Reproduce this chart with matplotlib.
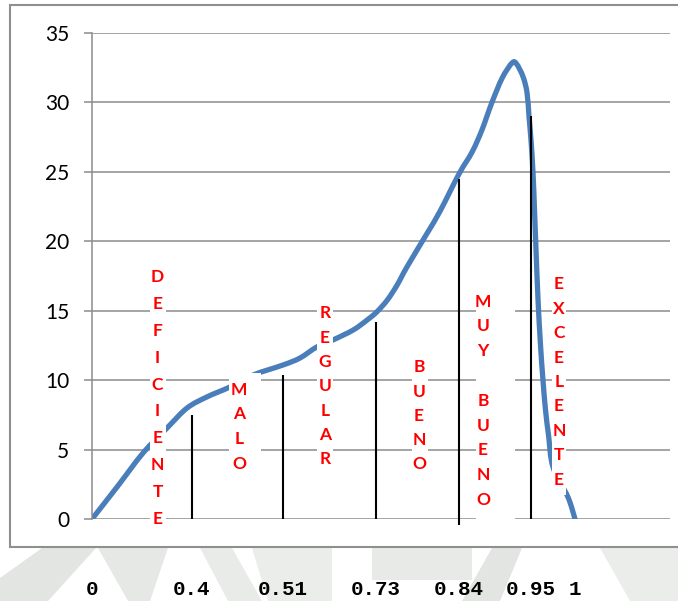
import numpy as np
import matplotlib
matplotlib.use("Agg")
import matplotlib.pyplot as plt
from matplotlib.patches import Rectangle, PathPatch, Polygon
from matplotlib.path import Path

# score classes on the x axis; black cut lines mark the class limits
SCORE_TICKS = [0, 0.4, 0.51, 0.73, 0.84, 0.95, 1]
SCORE_LABELS = ["0", "0.4", "0.51", "0.73", "0.84", "0.95", "1"]

CUT_SCORES = [0.4, 0.51, 0.73, 0.84, 0.95]
CUT_TOPS = [7.5, 10.4, 14.2, 24.5, 29.0]
CUT_BOTTOMS = [0, 0, 0, -0.4, 0]

# frequency curve over the score
CURVE_SCORE = [0.000, 0.100, 0.204, 0.300, 0.380, 0.418, 0.446, 0.474, 0.510,
               0.550, 0.590, 0.628, 0.676, 0.709, 0.731, 0.745, 0.758, 0.771,
               0.798, 0.815, 0.840, 0.860, 0.875, 0.890, 0.906, 0.921, 0.928,
               0.938, 0.944, 0.947, 0.950, 0.9523, 0.9540, 0.9557, 0.9580,
               0.9608, 0.9636, 0.9665, 0.9699, 0.975, 0.992, 1.000]
CURVE_VALUE = [0.00, 2.30, 4.75, 6.55, 7.99, 8.79, 9.51, 10.37, 11.09,
               11.59, 12.39, 12.89, 13.61, 14.33, 14.91, 15.77, 16.85, 18.15,
               20.60, 22.18, 24.85, 26.43, 28.01, 29.96, 31.76, 32.84, 32.77,
               31.83, 30.68, 28.95, 27.29, 24.92, 22.25, 19.37, 15.77,
               12.53, 10.01, 7.85, 6.05, 3.74, 1.58, 0.00]

CATEGORIES = ["DEFICIENTE", "MALO", "REGULAR", "BUENO", "MUY BUENO", "EXCELENTE"]

# where each vertical category label sits: column centre, first letter,
# letter step, and the white box behind it (left, right, bottom, top)
LABEL_X = [0.262, 0.4568, 0.6094, 0.787, 0.8767, 0.9818]
LABEL_Y0 = [17.57, 9.43, 14.91, 11.02, 15.77, 17.0]
LABEL_STEP = [1.944, 1.78, 1.75, 1.746, 1.786, 1.757]
LABEL_BOX = [(0.232, 0.296, -0.65, 18.5),
             (0.4447, 0.4834, 2.8, 10.51),
             (0.5904, 0.6279, 3.5, 15.8),
             (0.7777, 0.7989, 3.0, 11.9),
             (0.8660, 0.9256, -0.4, 16.6),
             (0.9739, 0.9898, 1.7, 17.9)]

# the score axis is stretched per class, not linear
SCALE_SCORES = [0, 0.4, 0.51, 0.73, 0.84, 0.95, 1, 1.2]
SCALE_POS = [0, 100, 191, 284, 367, 439, 483, 578]
Y_PX = 486 / 35  # screen units per value, keeps the smoothing isotropic


def fwd(x):
    return np.interp(x, SCALE_SCORES, SCALE_POS)


def inv(x):
    return np.interp(x, SCALE_POS, SCALE_SCORES)


def smooth_path(xs, ys):
    """Catmull-Rom style cubic Bezier through the points, like a smoothed
    spreadsheet line."""
    p = np.column_stack([fwd(np.asarray(xs)), np.asarray(ys) * Y_PX])
    ext = np.vstack([p[0], p, p[-1]])
    verts = [p[0]]
    codes = [Path.MOVETO]
    for i in range(len(p) - 1):
        p0, p1, p2, p3 = ext[i], ext[i + 1], ext[i + 2], ext[i + 3]
        c1 = p1 + (p2 - p0) / 6
        c2 = p2 - (p3 - p1) / 6
        verts += [c1, c2, p2]
        codes += [Path.CURVE4] * 3
    verts = np.array(verts)
    verts = np.column_stack([inv(verts[:, 0]), verts[:, 1] / Y_PX])
    return Path(verts, codes)


GRID = "#8c8c8c"
BLUE = "#4a7ebb"

fig = plt.figure(figsize=(6.78, 6.01), dpi=100)

# faint seal printed behind the page
for pts, shade in [
        ([(0, 578), (42, 548), (96, 548), (48, 601), (0, 601)], "#e2e5e2"),
        ([(98, 548), (168, 548), (150, 601), (128, 601)], "#e6e8e6"),
        ([(200, 548), (232, 548), (262, 601), (228, 601)], "#e9ebe9"),
        ([(252, 548), (332, 548), (332, 601), (268, 601)], "#ebedeb"),
        ([(372, 548), (472, 548), (472, 580), (372, 580)], "#e8eae8"),
        ([(462, 601), (492, 548), (522, 548), (500, 601)], "#e2e5e2"),
        ([(600, 548), (678, 548), (678, 601), (630, 601)], "#ebedeb")]:
    fig.add_artist(Polygon([(x / 678, 1 - y / 601) for x, y in pts],
                           closed=True, transform=fig.transFigure,
                           facecolor=shade, edgecolor="none", zorder=-2))

# frame round the chart area, filled white over the seal
fig.add_artist(Rectangle((10 / 678, 54 / 601), 690 / 678, 542 / 601,
                         transform=fig.transFigure, facecolor="white",
                         edgecolor="#8f8f8f", lw=1.5, zorder=-1))

ax = fig.add_axes([92 / 678, 82 / 601, 578 / 678, 486 / 601])
ax.patch.set_alpha(0)
ax.set_xscale("function", functions=(fwd, inv))
ax.set_xlim(0, 1.2)
ax.set_ylim(0, 35)

for side in ("top", "right", "bottom"):
    ax.spines[side].set_visible(False)
ax.spines["left"].set_color(GRID)
ax.spines["left"].set_linewidth(1.1)

ax.set_yticks(range(0, 36, 5))
ax.yaxis.grid(True, color=GRID, lw=1.1)
ax.set_axisbelow(True)
ax.tick_params(axis="y", length=6, width=1.1, color=GRID, pad=10.5,
               labelsize=15)
for lab in ax.get_yticklabels():
    lab.set_fontfamily("Lato")

ax.set_xticks(SCORE_TICKS, SCORE_LABELS)
ax.tick_params(axis="x", length=0, pad=44)
for lab in ax.get_xticklabels():
    lab.set_fontfamily("Liberation Mono")
    lab.set_fontweight("bold")
    lab.set_fontsize(15)

ax.add_patch(PathPatch(smooth_path(CURVE_SCORE, CURVE_VALUE), facecolor="none",
                       edgecolor=BLUE, lw=3.8, joinstyle="round",
                       capstyle="round", zorder=2))
ax.vlines(CUT_SCORES, CUT_BOTTOMS, CUT_TOPS, color="black", lw=1.5,
          zorder=3, clip_on=False)

for name, x, y0, step, (bl, br, bb, bt) in zip(CATEGORIES, LABEL_X, LABEL_Y0,
                                               LABEL_STEP, LABEL_BOX):
    ax.add_patch(Rectangle((bl, bb), br - bl, bt - bb, facecolor="white",
                           edgecolor="none", zorder=4, clip_on=False))
    for i, ch in enumerate(name):
        if ch == " ":
            continue
        ax.text(x, y0 - i * step, ch, color="red", fontsize=12.5,
                fontweight="bold", family="Lato", ha="center",
                va="center_baseline", zorder=5)

fig.savefig("out.png", dpi=100)
